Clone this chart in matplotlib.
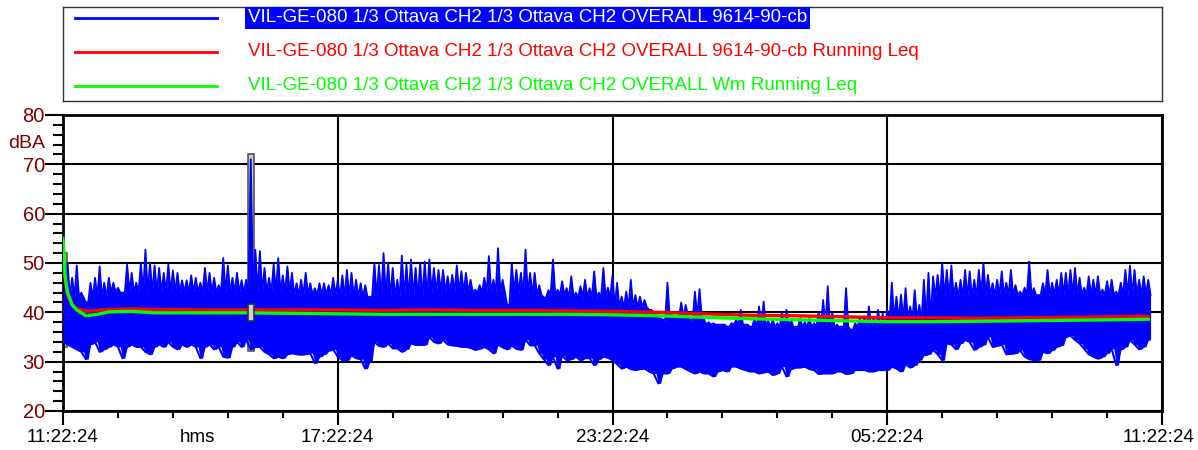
import numpy as np
import matplotlib
matplotlib.use("Agg")
import matplotlib.pyplot as plt
from matplotlib.patches import Rectangle
from matplotlib.transforms import ScaledTranslation
from matplotlib.ticker import FixedLocator, FixedFormatter, MultipleLocator

plt.rcParams["font.family"] = ["Liberation Sans", "DejaVu Sans"]

# blue series: peak / trough read every 0.1 h from the picture (hours after 11:22:24)
blue_hi = [
    52, 50, 47, 49.5, 44, 42, 46, 47, 49.3, 46,
    47, 46, 45, 44, 49.7, 48, 46, 50, 52.7, 50,
    49.5, 49, 48, 49.7, 48.5, 48, 46.5, 46.5, 47.5, 47,
    46, 49, 48, 47, 45.5, 51, 49.5, 47, 48, 46.5,
    46.6, 71, 52.7, 52.4, 49, 47, 49.7, 51, 47.5, 49.3,
    48, 45.9, 46.6, 48, 45.9, 44.9, 45.9, 45.9, 45.5, 47,
    46.5, 47.5, 48.6, 48, 46.6, 45.9, 45.5, 43.2, 50, 49.6,
    52, 50, 49, 46.6, 51.5, 49.7, 50.7, 49, 50, 50.3,
    50.7, 49, 48.6, 48.6, 47.3, 47.6, 49.5, 48.3, 48, 46.6,
    44.6, 45.5, 47, 51.4, 46.6, 53, 46.6, 41.5, 50, 48.6,
    48, 52.7, 48, 48, 45.5, 43, 44.5, 50.7, 44.6, 46.3,
    44.9, 47.3, 44, 45.3, 46.6, 44.9, 48.3, 44, 49, 45,
    47.5, 46, 43.2, 44.2, 46.6, 43.5, 43.2, 42.5, 40.5, 39.8,
    38.8, 38.5, 46, 39.5, 38.8, 42, 41.5, 38.5, 44.2, 44.7,
    38.5, 38, 37.8, 37.5, 37.5, 37.1, 37.8, 38.5, 40.5, 37.5,
    37.1, 38.8, 41.2, 42.2, 38.3, 38.5, 37.8, 40, 40.5, 38.5,
    37.1, 38.8, 38, 38.8, 37.8, 40, 42.5, 45.3, 40, 37.5,
    37.1, 44.9, 36.5, 37.8, 38.8, 39.2, 41.2, 38.8, 40.5, 39.8,
    40.5, 46, 43.2, 43.6, 44.9, 41.2, 44.5, 41.5, 46.6, 48,
    47.3, 47.6, 50, 48.6, 49.5, 46, 46.6, 48.6, 48.3, 46.6,
    48.6, 50, 47.6, 45.9, 46.6, 48.3, 46, 48.6, 45.5, 44.2,
    45, 50.3, 44.9, 43.5, 45.9, 48.6, 46, 46.6, 48, 48,
    48.6, 49, 47, 45, 47.3, 46.6, 47.3, 44.6, 46.3, 46.6,
    44.2, 46, 48.6, 49.5, 48.6, 46.6, 47.3, 46.6,
]
blue_lo = [
    34, 33.5, 33, 32.5, 32, 30.5, 33.5, 34, 32, 32.5,
    33, 33.5, 33, 30.7, 33, 33.5, 33, 33, 32, 31.5,
    33, 33.5, 33, 34, 33, 32.5, 33.5, 33, 33.5, 33,
    30.7, 33, 33.5, 32.5, 33, 31, 30.8, 33, 34, 33,
    34.4, 32.5, 33, 33, 32, 31.5, 30.7, 31, 30.7, 31.5,
    31.7, 31.5, 31.4, 31.5, 31.7, 29.7, 31, 31.5, 32.2, 32.5,
    31, 30.3, 30.3, 31.3, 30.7, 30.5, 28.6, 30, 34, 33.2,
    33, 33.7, 32.7, 32.7, 32, 32.5, 33.7, 33.4, 33.4, 33.4,
    35, 34, 33.7, 34.4, 33.5, 33.3, 33.2, 33, 33, 32.8,
    32.4, 32.6, 33, 32.5, 31.7, 33.5, 32.9, 32.5, 33.3, 32.6,
    32.4, 34.5, 33.3, 33.3, 31.7, 30.5, 29.3, 31, 28.6, 31.2,
    30.3, 30.5, 31, 30.3, 30.7, 30.7, 29.3, 30.5, 31, 30.8,
    30.3, 29.5, 28.6, 29, 28.5, 28.3, 28.5, 28.6, 28, 27.6,
    25.6, 27.6, 27.6, 28.6, 29, 29, 28.5, 28, 27.6, 28,
    27.6, 27.6, 27, 28, 28.3, 28, 29, 29, 28.6, 28.3,
    28, 28, 27.6, 27.8, 28, 27.3, 27.6, 29, 27, 28.5,
    28.8, 28.8, 29, 28.5, 28.3, 27.5, 27.6, 27.6, 27.6, 28,
    28, 27.5, 27.6, 28.3, 28.3, 28.3, 28, 28, 28.3, 28.3,
    28.3, 29, 28.6, 28, 29.5, 28.8, 29.3, 30.3, 31.3, 31.5,
    32.4, 31.5, 30.3, 33.7, 33.5, 32.5, 33.7, 34.4, 34, 32.4,
    33, 33.4, 35, 33, 33.2, 33.5, 31.5, 31.6, 31.7, 32.3,
    31, 30.5, 30.3, 30.3, 32, 31.7, 32.3, 33, 33.3, 35,
    35.3, 34.4, 33.7, 32.6, 31.5, 31, 30.6, 31, 31.7, 32.6,
    29.3, 32.5, 33, 34.4, 33.5, 32.5, 33, 34.4,
]
# level up to which the blue band looks solid, per hour
blue_core = [43, 44, 44, 44, 44, 43.5, 43, 43, 44, 44, 43.5, 43,
             41, 39, 37.5, 37, 37, 37, 38.5, 43, 43.5, 43.5, 43.5, 43.5]
blue_t = np.arange(len(blue_hi)) * 0.1

# running Leq curves
leq_t = [0, 0.05, 0.1, 0.2, 0.3, 0.5, 0.75, 1.0, 1.5, 2, 3, 4, 5, 6, 7, 8, 9, 10, 11,
         12, 13, 14, 15, 16, 17, 18, 19, 20, 21, 22, 23, 23.7]
red_leq = [50, 46.5, 43.5, 41.5, 40.8, 40.2, 40.4, 40.6, 40.7, 40.6, 40.5, 40.5, 40.5,
           40.5, 40.4, 40.5, 40.4, 40.4, 40.3, 40.2, 40.0, 39.7, 39.4, 39.3, 39.1,
           38.9, 38.9, 38.8, 38.9, 39.0, 39.1, 39.2]
green_leq = [55, 47, 44, 41.5, 40.5, 39.3, 39.6, 40.1, 40.2, 39.9, 39.9, 39.9, 39.8,
             39.7, 39.6, 39.6, 39.6, 39.6, 39.6, 39.5, 39.3, 39.0, 38.7, 38.5, 38.3,
             38.1, 38.1, 38.2, 38.3, 38.4, 38.5, 38.6]

# min/max marker boxes (time, low, high)
box_t = [0.03, 4.1]
box_lo = [33, 32.2]
box_hi = [52, 72.1]
cursor_lo, cursor_hi = 38.3, 41.7

x_labels = ["11:22:24", "17:22:24", "23:22:24", "05:22:24", "11:22:24"]
legend_labels = [
    "VIL-GE-080 1/3 Ottava CH2 1/3 Ottava CH2 OVERALL 9614-90-cb",
    "VIL-GE-080 1/3 Ottava CH2 1/3 Ottava CH2 OVERALL 9614-90-cb Running Leq",
    "VIL-GE-080 1/3 Ottava CH2 1/3 Ottava CH2 OVERALL Wm Running Leq",
]

W, H = 1198, 450
fig = plt.figure(figsize=(W / 100, H / 100), dpi=100)
ax = fig.add_axes([63 / W, 1 - 411 / H, 1099 / W, 296 / H])

# gray min/max boxes under the data
for t, lo, hi in zip(box_t, box_lo, box_hi):
    ax.add_patch(Rectangle((t - 0.065, lo), 0.13, hi - lo, facecolor="#c8c8c8",
                           edgecolor="#555555", lw=1.2, zorder=2))

# blue: solid core plus needles up to each read peak
core = np.array(blue_core)[np.minimum(blue_t.astype(int), len(blue_core) - 1)]
top_x = np.empty(2 * len(blue_t))
top_y = np.empty(2 * len(blue_t))
bot_y = np.empty(2 * len(blue_t))
top_x[0::2] = blue_t
top_x[1::2] = blue_t + 0.05
top_y[0::2] = blue_hi
top_y[1::2] = np.minimum(core, blue_hi)
bot_y[0::2] = blue_lo
bot_y[1::2] = blue_lo
ax.fill_between(top_x, bot_y, top_y, color="#0000ff", lw=0, zorder=3)
ax.plot(top_x, top_y, color="#0000ff", lw=1.3, zorder=3)
ax.plot(blue_t, blue_lo, color="#0000ff", lw=1.5, zorder=3)

ax.plot(leq_t, red_leq, color="#ff0000", lw=2.4, zorder=4)
ax.plot(leq_t, green_leq, color="#00ff00", lw=2.4, zorder=5)

ax.add_patch(Rectangle((box_t[1] - 0.065, cursor_lo), 0.13, cursor_hi - cursor_lo,
                       facecolor="#d0d0d0", edgecolor="#333333", lw=1.2, zorder=6))

ax.set_xlim(0, 24)
ax.set_ylim(20, 80)
ax.xaxis.set_major_locator(FixedLocator([0, 6, 12, 18, 24]))
ax.xaxis.set_major_formatter(FixedFormatter(x_labels))
ax.xaxis.set_minor_locator(MultipleLocator(1.2))
ax.yaxis.set_major_locator(MultipleLocator(10))
ax.yaxis.set_minor_locator(MultipleLocator(2))
ax.grid(True, which="major", color="black", lw=1.5)
for s in ax.spines.values():
    s.set_linewidth(2)
ax.tick_params(axis="x", which="major", length=10, width=1.5, labelsize=13.5, pad=3)
ax.tick_params(axis="x", which="minor", length=5, width=1.5)
ax.tick_params(axis="y", which="major", length=13, width=1.5, labelsize=14.5,
               labelcolor="#800000", pad=0)
ax.tick_params(axis="y", which="minor", length=7, width=1.5)
fig.canvas.draw()
last = ax.get_xticklabels()[-1]
last.set_transform(last.get_transform() + ScaledTranslation(-4 / 100, 0, fig.dpi_scale_trans))

fig.text(45 / W, 1 - 143 / H, "dBA", color="#800000", fontsize=14,
         ha="right", va="center")
fig.text(197 / W, 1 - 437 / H, "hms", color="black", fontsize=13.5,
         ha="center", va="center")

# legend panel
lg = fig.add_axes([63 / W, 1 - 101 / H, 1099 / W, 94 / H])
lg.set_xlim(0, 1099)
lg.set_ylim(94, 0)
lg.set_xticks([])
lg.set_yticks([])
for s in lg.spines.values():
    s.set_linewidth(1)
    s.set_color("#333333")
colors = ["#0000ff", "#ff0000", "#00ff00"]
rows = [11, 45, 79]
for lab, c, r in zip(legend_labels, colors, rows):
    lg.plot([12, 154], [r, r], color=c, lw=2)
    if c == "#0000ff":
        lg.text(185, r, lab, color="white", fontsize=13.5, va="center",
                bbox=dict(facecolor="#0000ff", edgecolor="none", pad=2))
    else:
        lg.text(185, r, lab, color=c, fontsize=13.5, va="center")

fig.savefig("out.png", dpi=100)
